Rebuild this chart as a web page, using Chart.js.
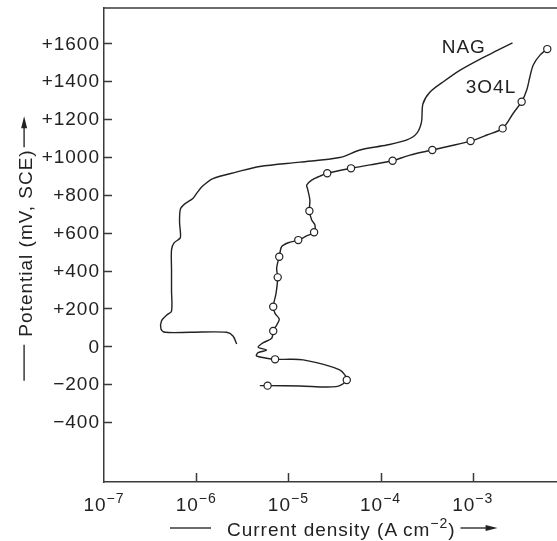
<!DOCTYPE html>
<html>
<head>
<meta charset="utf-8">
<script src="https://cdn.jsdelivr.net/npm/chart.js@4/dist/chart.umd.min.js"></script>
<style>
  body { margin: 0; background: #fff; }
  #wrap { width: 557px; height: 541px; }
</style>
</head>
<body>
<div id="wrap"><canvas id="polChart" width="557" height="541"></canvas></div>
<script>

// NAG polarisation curve: current density (A/cm2) and potential (mV, SCE)
var nagCurrent = [2.75e-6, 2.51e-6, 2.14e-6, 8.6e-7, 4.6e-7, 4.15e-7, 4.2e-7, 4.8e-7, 5.4e-7, 5.4e-7,
	5.4e-7, 5.4e-7, 5.75e-7, 6.7e-7, 6.75e-7, 6.6e-7, 6.75e-7, 7.6e-7, 9.2e-7, 1.02e-6,
	1.16e-6, 1.52e-6, 2.77e-6, 4.9e-6, 1.34e-5, 3.6e-5, 6.0e-5, 1.17e-4, 1.93e-4, 2.48e-4,
	2.78e-4, 2.88e-4, 3.44e-4, 4.75e-4, 7.3e-4, 1.2e-3, 1.8e-3, 2.7e-3];
var nagPotential = [12, 54, 74, 74, 74, 91, 134, 165, 186, 297,
	403, 509, 546, 572, 598, 656, 725, 754, 781, 810,
	844, 886, 921, 950, 973, 997, 1037, 1063, 1090, 1126,
	1185, 1280, 1343, 1396, 1459, 1517, 1560, 1603];

// 3O4L curve, 1 = measured point (drawn with a circle)
var alloyCurrent = [4.9e-6, 5.95e-6, 1.34e-5, 3.3e-5, 4.3e-5, 3.6e-5, 1.45e-5, 8.8e-6, 7.17e-6, 5.8e-6,
	4.5e-6, 4.7e-6, 5.8e-6, 4.7e-6, 5.35e-6, 6.6e-6, 6.85e-6, 7.46e-6, 7.96e-6, 7.17e-6,
	6.85e-6, 7.35e-6, 7.66e-6, 7.46e-6, 7.96e-6, 8.45e-6, 9.97e-6, 1.28e-5, 1.58e-5, 1.9e-5,
	1.94e-5, 1.79e-5, 1.69e-5, 1.71e-5, 1.62e-5, 1.58e-5, 1.79e-5, 2.2e-5, 2.64e-5, 4.78e-5,
	7.67e-5, 1.35e-4, 2.08e-4, 3.64e-4, 5.66e-4, 9.48e-4, 1.42e-3, 2.11e-3, 2.75e-3, 3.39e-3,
	3.85e-3, 4.17e-3, 4.53e-3, 5.36e-3, 6.43e-3];
var alloyPotential = [-208, -208, -210, -213, -178, -125, -72, -69, -69, -63,
	-51, -34, -20, -5, 19, 42, 81, 112, 143, 174,
	209, 280, 364, 412, 473, 526, 547, 561, 583, 602,
	641, 667, 715, 773, 829, 852, 878, 899, 914, 940,
	958, 980, 1010, 1037, 1058, 1084, 1116, 1151, 1231, 1292,
	1354, 1424, 1486, 1538, 1570];
var alloyMeasured = [0, 1, 0, 0, 1, 0, 0, 0, 1, 0,
	0, 0, 0, 0, 0, 0, 1, 0, 0, 0,
	1, 0, 1, 0, 1, 0, 0, 1, 0, 1,
	0, 0, 1, 0, 0, 0, 0, 0, 1, 1,
	0, 1, 0, 1, 0, 1, 0, 1, 0, 1,
	0, 0, 0, 0, 1];

var xDecades = [1e-7, 1e-6, 1e-5, 1e-4, 1e-3];
var xDecadeExp = ['7', '6', '5', '4', '3'];
var yTicks = [-400, -200, 0, 200, 400, 600, 800, 1000, 1200, 1400, 1600];

var curveNames = ['NAG', '3O4L'];
var curveNameAt = [{x: 4.6e-4, y: 1547}, {x: 8.4e-4, y: 1339}];

var FONT = 'Liberation Sans, Arial, Helvetica, sans-serif';
var INK = '#222';
var AXIS = '#3a3a3a';

function toPoints(xs, ys) {
	var pts = [];
	for (var i = 0; i < xs.length; i++) {
		pts.push({x: xs[i], y: ys[i]});
	}
	return pts;
}

function signed(v) {
	if (v > 0) return '+' + v;
	if (v < 0) return '\u2212' + (-v);
	return '0';
}

// text with a raised part, e.g. 10^-6; returns total width
function supWidth(ctx, base, sup, size, supSize) {
	ctx.font = size + 'px ' + FONT;
	var w = ctx.measureText(base).width;
	ctx.font = supSize + 'px ' + FONT;
	return w + ctx.measureText(sup).width;
}

function drawSup(ctx, base, sup, x, y, size, supSize, rise) {
	ctx.textAlign = 'left';
	ctx.textBaseline = 'alphabetic';
	ctx.font = size + 'px ' + FONT;
	ctx.fillText(base, x, y);
	var w = ctx.measureText(base).width;
	ctx.font = supSize + 'px ' + FONT;
	ctx.fillText(sup, x + w, y - rise);
	return w + ctx.measureText(sup).width;
}

function arrowHead(ctx, x, y, dx, dy) {
	// filled head pointing along (dx, dy)
	var len = 12, half = 3;
	ctx.beginPath();
	ctx.moveTo(x, y);
	ctx.lineTo(x - dx * len - dy * half, y - dy * len + dx * half);
	ctx.lineTo(x - dx * len + dy * half, y - dy * len - dx * half);
	ctx.closePath();
	ctx.fill();
}

var decorations = {
	id: 'decorations',
	afterDraw: function(chart) {
		var ctx = chart.ctx;
		var area = chart.chartArea;
		var xs = chart.scales.x;
		var ys = chart.scales.y;
		var i, p;

		ctx.save();
		ctx.letterSpacing = '1px';
		ctx.strokeStyle = AXIS;
		ctx.fillStyle = INK;
		ctx.lineWidth = 1.5;

		// top frame line
		ctx.beginPath();
		ctx.moveTo(area.left, area.top);
		ctx.lineTo(area.right, area.top);
		ctx.stroke();

		// inward tick marks
		ctx.beginPath();
		for (i = 0; i < yTicks.length; i++) {
			p = Math.round(ys.getPixelForValue(yTicks[i])) + 0.5;
			ctx.moveTo(area.left, p);
			ctx.lineTo(area.left + 8, p);
		}
		for (i = 1; i < xDecades.length; i++) {
			p = Math.round(xs.getPixelForValue(xDecades[i])) + 0.5;
			ctx.moveTo(p, area.bottom);
			ctx.lineTo(p, area.bottom - 9);
		}
		ctx.stroke();

		// potential labels
		ctx.font = '19px ' + FONT;
		ctx.textAlign = 'right';
		ctx.textBaseline = 'middle';
		for (i = 0; i < yTicks.length; i++) {
			ctx.fillText(signed(yTicks[i]), area.left - 4, ys.getPixelForValue(yTicks[i]) + 1);
		}

		// decade labels 10^-n
		for (i = 0; i < xDecades.length; i++) {
			p = xs.getPixelForValue(xDecades[i]);
			var sup = '\u2212' + xDecadeExp[i];
			var w = supWidth(ctx, '10', sup, 19, 14);
			drawSup(ctx, '10', sup, p - w / 2, area.bottom + 29, 19, 14, 8);
		}

		// x axis title with leading line and arrow
		var t1 = 'Current density (A\u2009cm';
		var sw = supWidth(ctx, t1, '\u22122', 19, 14);
		ctx.font = '19px ' + FONT;
		var cw = ctx.measureText(')').width;
		var tx = 227;
		var ty = area.bottom + 53.5;
		var used = drawSup(ctx, t1, '\u22122', tx, ty, 19, 14, 8);
		ctx.font = '19px ' + FONT;
		ctx.fillText(')', tx + used, ty);
		var tEnd = tx + sw + cw;
		ctx.beginPath();
		ctx.moveTo(tx - 57, ty - 7.4);
		ctx.lineTo(tx - 16, ty - 7.4);
		ctx.moveTo(tEnd + 5, ty - 7.4);
		ctx.lineTo(tEnd + 38, ty - 7.4);
		ctx.stroke();
		arrowHead(ctx, tEnd + 42, ty - 7.4, 1, 0);

		// y axis title, rotated
		ctx.save();
		ctx.translate(31.5, 243);
		ctx.rotate(-Math.PI / 2);
		ctx.font = '19px ' + FONT;
		ctx.textAlign = 'center';
		ctx.textBaseline = 'alphabetic';
		var yt = 'Potential (mV, SCE)';
		var yw = ctx.measureText(yt).width;
		ctx.fillText(yt, 0, 0);
		ctx.beginPath();
		ctx.moveTo(-yw / 2 - 8, -7.4);
		ctx.lineTo(-yw / 2 - 44, -7.4);
		ctx.moveTo(yw / 2 + 2, -7.4);
		ctx.lineTo(yw / 2 + 28, -7.4);
		ctx.stroke();
		arrowHead(ctx, yw / 2 + 33, -7.4, 1, 0);
		ctx.restore();

		// curve names
		ctx.font = '19px ' + FONT;
		ctx.textAlign = 'left';
		ctx.textBaseline = 'alphabetic';
		for (i = 0; i < curveNames.length; i++) {
			ctx.fillText(curveNames[i], xs.getPixelForValue(curveNameAt[i].x), ys.getPixelForValue(curveNameAt[i].y));
		}
		ctx.restore();
	}
};

var ctx = document.getElementById('polChart').getContext('2d');
var chart = new Chart(ctx, {
	type: 'scatter',
	data: {
		datasets: [{
				label: 'NAG',
				data: toPoints(nagCurrent, nagPotential),
				showLine: true,
				borderColor: INK,
				borderWidth: 1.4,
				pointRadius: 0,
				tension: 0.3
			},
			{
				label: '3O4L',
				data: toPoints(alloyCurrent, alloyPotential),
				showLine: true,
				borderColor: INK,
				borderWidth: 1.4,
				tension: 0.3,
				pointRadius: function(c) { return alloyMeasured[c.dataIndex] ? 3.6 : 0; },
				pointBackgroundColor: '#fff',
				pointBorderColor: INK,
				pointBorderWidth: 1.2
			}
		]
	},
	options: {
		responsive: false,
		animation: false,
		layout: { autoPadding: false, padding: { top: 8, right: 0, bottom: 0, left: 0 } },
		plugins: {
			legend: { display: false },
			tooltip: { enabled: false }
		},
		scales: {
			x: {
				type: 'logarithmic',
				min: 1e-7,
				max: 8.2e-3,
				grid: { display: false, drawTicks: false },
				border: { display: true, color: AXIS, width: 1.5 },
				ticks: { display: false },
				afterFit: function(s) { s.height = 59; }
			},
			y: {
				type: 'linear',
				min: -717,
				max: 1787,
				grid: { display: false, drawTicks: false },
				border: { display: true, color: AXIS, width: 1.5 },
				ticks: { display: false },
				afterFit: function(s) { s.width = 104; }
			}
		}
	},
	plugins: [decorations]
});
</script>
</body>
</html>
